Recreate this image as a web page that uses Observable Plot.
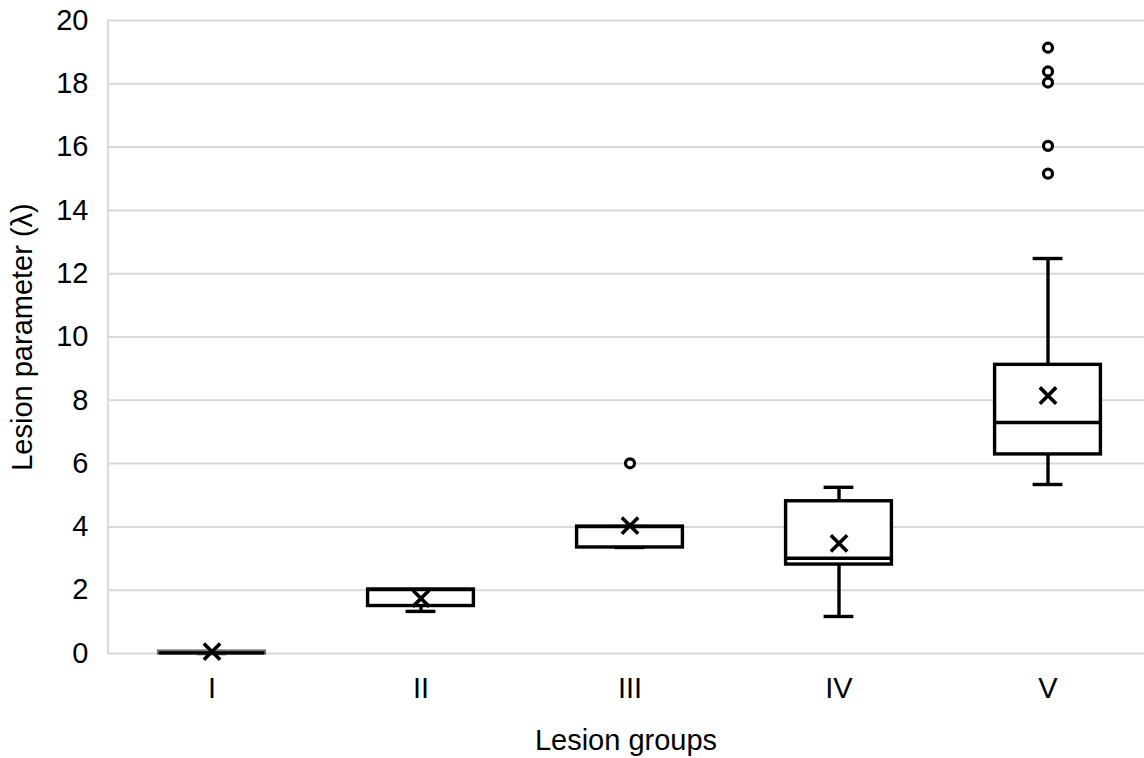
<!DOCTYPE html>
<html>
<head>
<meta charset="utf-8">
<script src="https://cdn.jsdelivr.net/npm/d3@7"></script>
<script src="https://cdn.jsdelivr.net/npm/@observablehq/plot@0.6"></script>
<style>
  html, body { margin: 0; padding: 0; background: #fff; }
  #chart { width: 1144px; height: 758px; }
</style>
</head>
<body>
<div id="chart"></div>
<script>
const groups = ["I", "II", "III", "IV", "V"];
const whiskerLow = [0, 1.33, 3.35, 1.17, 5.34];
const q1 = [0, 1.5, 3.35, 2.81, 6.29];
const median = [0.02, 2.02, 4.01, 3.01, 7.30];
const q3 = [0.06, 2.02, 4.01, 4.81, 9.12];
const whiskerHigh = [0.06, 2.02, 4.01, 5.25, 12.48];
const mean = [0.06, 1.74, 4.04, 3.48, 8.15];
const outlierGroup = ["III", "V", "V", "V", "V", "V"];
const outlierValue = [6.01, 19.14, 18.39, 18.04, 16.04, 15.16];
const yTicks = [0, 2, 4, 6, 8, 10, 12, 14, 16, 18, 20];
const xTitle = "Lesion groups";
const yTitle = "Lesion parameter (λ)";

const stats = groups.map((g, i) => ({
  group: g, lo: whiskerLow[i], q1: q1[i], med: median[i], q3: q3[i], hi: whiskerHigh[i], mean: mean[i]
}));
const outliers = outlierGroup.map((g, i) => ({group: g, value: outlierValue[i]}));

const bandW = (1152.5 - 106.5) / groups.length;
const boxInset = (bandW - 106) / 2;
const capInset = (bandW - 30) / 2;
const sw = 3.4;

const chart = Plot.plot({
  width: 1144,
  height: 758,
  marginLeft: 107,
  marginRight: 0,
  marginTop: 20,
  marginBottom: 105,
  style: {fontFamily: "'Liberation Sans', Arial, sans-serif", fontSize: "29px", color: "#000", background: "#fff"},
  x: {domain: groups, range: [106.5, 1152.5], padding: 0, label: null},
  y: {domain: [0, 20], label: null},
  marks: [
    Plot.ruleY(yTicks, {stroke: "#d9d9d9", strokeWidth: 2}),
    Plot.ruleX(["I"], {x: d => d, y1: 0, y2: 20, dx: -bandW / 2 + 0.5, stroke: "#d9d9d9", strokeWidth: 2}),
    Plot.axisY({ticks: yTicks, tickSize: 0, tickPadding: 19, fontSize: 29, label: null}),
    Plot.axisX({tickSize: 0, tickPadding: 24, fontSize: 29, label: null}),
    Plot.ruleX(stats, {x: "group", y1: "lo", y2: "q1", stroke: "#000", strokeWidth: sw}),
    Plot.ruleX(stats, {x: "group", y1: "q3", y2: "hi", stroke: "#000", strokeWidth: sw}),
    Plot.tickY(stats, {x: "group", y: "lo", insetLeft: capInset, insetRight: capInset, stroke: "#000", strokeWidth: sw}),
    Plot.tickY(stats, {x: "group", y: "hi", insetLeft: capInset, insetRight: capInset, stroke: "#000", strokeWidth: sw}),
    Plot.rect(stats, {x: "group", y1: "q1", y2: "q3", insetLeft: boxInset, insetRight: boxInset, fill: "#fff", stroke: d => d.q3 - d.q1 < 0.2 ? "#777" : "#000", strokeWidth: sw}),
    Plot.tickY(stats, {x: "group", y: "med", insetLeft: boxInset, insetRight: boxInset, stroke: "#000", strokeWidth: sw}),
    Plot.dot(stats, {x: "group", y: "mean", symbol: "times", r: 7.5, stroke: "#000", strokeWidth: 3.6}),
    Plot.dot(outliers, {x: "group", y: "value", symbol: "circle", r: 4.5, fill: "#fff", stroke: "#000", strokeWidth: 3.2}),
    Plot.text([yTitle], {frameAnchor: "left", dx: -85, rotate: -90, textAnchor: "middle", lineAnchor: "middle", fontSize: 29, fill: "#000"}),
    Plot.text([xTitle], {frameAnchor: "bottom", dy: 87, textAnchor: "middle", lineAnchor: "middle", fontSize: 29, fill: "#000"})
  ]
});
document.getElementById("chart").appendChild(chart);
</script>
</body>
</html>
